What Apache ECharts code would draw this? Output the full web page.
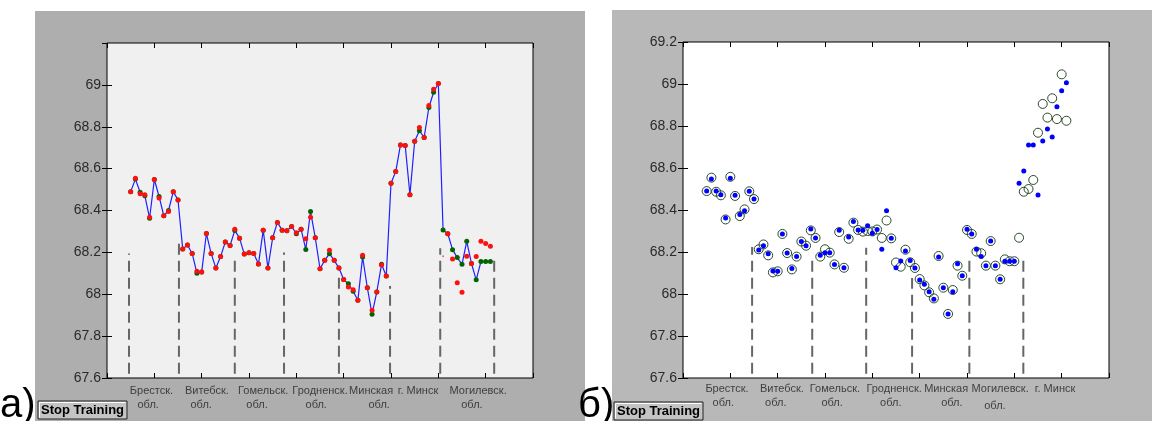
<!DOCTYPE html>
<html>
<head>
<meta charset="utf-8">
<script src="https://cdn.jsdelivr.net/npm/echarts@6/dist/echarts.min.js"></script>
<style>
html, body { margin: 0; padding: 0; background: #fff; }
#main { width: 1152px; height: 421px; }
</style>
</head>
<body>
<div id="main"></div>
<script>
var chart = echarts.init(document.getElementById('main'));

// region names under the axes
var regionsA = ['Брестск.', 'Витебск.', 'Гомельск.', 'Гродненск.', 'Минская', 'г. Минск', 'Могилевск.'];
var oblA = ['обл.', 'обл.', 'обл.', 'обл.', 'обл.', '', 'обл.'];
var regionsB = ['Брестск.', 'Витебск.', 'Гомельск.', 'Гродненск.', 'Минская', 'Могилевск.', 'г. Минск'];
var oblB = ['обл.', 'обл.', 'обл.', 'обл.', 'обл.', 'обл.', ''];

// а) actual values (blue line, green dots) and network output (red dots)
var actualA = [68.49, 68.55, 68.487, 68.47, 68.363, 68.548, 68.467, 68.375, 68.40, 68.49, 68.45,
  68.216, 68.235, 68.195, 68.10, 68.106, 68.29, 68.195, 68.125, 68.18, 68.25, 68.233,
  68.305, 68.268, 68.192, 68.198, 68.195, 68.144, 68.306, 68.125, 68.27, 68.343, 68.306,
  68.303, 68.324, 68.289, 68.311, 68.214, 68.395, 68.27, 68.122, 68.162, 68.194, 68.162,
  68.125, 68.07, 68.05, 68.014, 67.971, 68.178, 68.031, 67.905, 68.011, 68.143, 68.087,
  68.53, 68.586, 68.713, 68.71, 68.475, 68.731, 68.781, 68.749, 68.892, 68.965, 69.007,
  68.307, 68.289, 68.213, 68.175, 68.143, 68.253, 68.147, 68.069, 68.156, 68.156, 68.156];
var outputA = [68.49, 68.554, 68.48, 68.475, 68.368, 68.548, 68.46, 68.375, 68.395, 68.49, 68.45,
  68.216, 68.235, 68.195, 68.11, 68.106, 68.29, 68.195, 68.125, 68.18, 68.25, 68.233,
  68.31, 68.268, 68.192, 68.198, 68.195, 68.144, 68.306, 68.125, 68.27, 68.343, 68.306,
  68.303, 68.324, 68.294, 68.311, 68.265, 68.368, 68.27, 68.122, 68.162, 68.21, 68.162,
  68.125, 68.07, 68.035, 68.022, 67.971, 68.186, 68.031, 67.924, 68.011, 68.14, 68.087,
  68.53, 68.586, 68.713, 68.71, 68.475, 68.731, 68.797, 68.749, 68.901, 68.979, 69.007,
  null, 68.289, 68.168, 68.055, 68.009, 68.181, 68.147, 68.18, 68.253, 68.242, 68.229];
var strayA = { index: 66, value: 68.182 };

// б) actual values (blue dots) and model output (circles)
var actualB = [68.49, 68.548, 68.49, 68.473, 68.362, 68.551, 68.47, 68.379, 68.397, 68.489, 68.452,
  68.21, 68.23, 68.192, 68.11, 68.108, 68.286, 68.195, 68.122, 68.178, 68.25, 68.23,
  68.31, 68.267, 68.184, 68.197, 68.197, 68.141, 68.303, 68.125, 68.271, 68.345, 68.305,
  68.303, 68.325, 68.289, 68.307, 68.213, 68.397, 68.265, 68.125, 68.157, 68.205, 68.159,
  68.124, 68.067, 68.046, 68.011, 67.975, 68.176, 68.03, 67.905, 68.011, 68.144, 68.087,
  68.308, 68.286, 68.213, 68.178, 68.135, 68.252, 68.135, 68.07, 68.156, 68.156, 68.156,
  68.527, 68.586, 68.71, 68.71, 68.471, 68.729, 68.786, 68.748, 68.892, 68.968, 69.006];
var outputB = [68.49, 68.554, 68.487, 68.47, 68.355, 68.558, 68.467, 68.371, 68.403, 68.489, 68.452,
  68.213, 68.236, 68.184, 68.103, 68.108, 68.286, 68.195, 68.117, 68.178, 68.25, 68.23,
  68.303, 68.267, 68.178, 68.213, 68.197, 68.141, 68.295, 68.125, 68.263, 68.34, 68.305,
  68.297, 68.30, 68.298, 68.307, 68.267, 68.35, 68.265, 68.15, 68.13, 68.211, 68.151,
  68.124, 68.071, 68.041, 68.008, 67.979, 68.181, 68.03, 67.905, 68.019, 68.135, 68.087,
  68.305, 68.286, 68.202, 68.194, 68.135, 68.252, 68.135, 68.07, 68.165, 68.156, 68.156,
  68.268, 68.487, 68.50, 68.543, 68.768, 68.905, 68.84, 68.932, 68.833, 69.046, 68.825];

// dashed separators between regions
var sepXA = [0.465, 1.52, 2.70, 3.74, 4.90, 5.98, 7.04, 8.18];
var sepTopA = [68.195, 68.27, 68.18, 68.2, 68.08, 68.04, 68.22, 68.16];
var sepXB = [1.46, 2.73, 3.87, 4.84, 6.05, 7.19];
var sepTopB = [68.224, 68.18, 68.22, 68.076, 68.16, 68.18];

// label layout (axis units)
var nameXA = [0.94, 2.11, 3.30, 4.50, 5.58, 6.57, 7.84];
var oblXA = [0.87, 1.99, 3.17, 4.42, 5.75, 0, 7.71];
var nameXB = [0.93, 2.09, 3.21, 4.46, 5.56, 6.70, 7.86];
var oblXB = [0.85, 1.96, 3.15, 4.39, 5.68, 6.59, 0];

function xOf(i) { return (i + 5) / 10; }
function pts(vals) {
    var out = [];
    vals.forEach(function (v, i) { if (v !== null) out.push([xOf(i), v]); });
    return out;
}

var font = '"Liberation Sans", Arial, sans-serif';

function gridAxes(g, showMax) {
    var tick = { inside: true, length: 5, lineStyle: { color: '#000', width: 1 } };
    var xs = ['bottom', 'top'].map(function (p) {
        return { gridIndex: g, type: 'value', position: p, min: 0, max: 9, interval: 1,
            axisLine: { show: false }, axisTick: tick, axisLabel: { show: false }, splitLine: { show: false } };
    });
    var ys = ['left', 'right'].map(function (p) {
        return { gridIndex: g, type: 'value', position: p, min: 67.6, max: 69.2, interval: 0.2,
            axisLine: { show: false }, axisTick: tick, splitLine: { show: false },
            axisLabel: { show: p === 'left', showMaxLabel: showMax, margin: 6, color: '#2a2a2a',
                fontSize: 14, fontFamily: font,
                formatter: function (v) { return String(+v.toFixed(1)); } } };
    });
    return { x: xs, y: ys };
}

var axA = gridAxes(0, false), axB = gridAxes(1, true);

function sepSeries(xs, tops, xi, yi) {
    return xs.map(function (x, k) {
        return { type: 'line', xAxisIndex: xi, yAxisIndex: yi, symbol: 'none', silent: true, z: 1,
            data: [[x, 67.62], [x, tops[k]]],
            lineStyle: { color: '#666', width: 2, type: [11, 6] } };
    });
}

function labelSeries(names, xs, y, xi, yi) {
    var data = [];
    names.forEach(function (n, k) { if (n) data.push({ value: [xs[k], y], name: n }); });
    return { type: 'scatter', xAxisIndex: xi, yAxisIndex: yi, clip: false, silent: true, symbolSize: 0,
        data: data,
        label: { show: true, position: 'inside', formatter: '{b}', color: '#222', fontSize: 11, fontFamily: font } };
}

var series = [];
series = series.concat(sepSeries(sepXA, sepTopA, 0, 0), sepSeries(sepXB, sepTopB, 2, 2));
series.push(
    { type: 'line', xAxisIndex: 0, yAxisIndex: 0, data: pts(actualA), symbol: 'none', z: 2,
      lineStyle: { color: '#1f1fff', width: 1.2 } },
    { type: 'scatter', xAxisIndex: 0, yAxisIndex: 0, data: pts(actualA), symbolSize: 5, z: 3,
      itemStyle: { color: '#006400', opacity: 1 } },
    { type: 'scatter', xAxisIndex: 0, yAxisIndex: 0, data: pts(outputA), symbolSize: 5, z: 4,
      itemStyle: { color: '#ff1010', opacity: 1 } },
    { type: 'scatter', xAxisIndex: 0, yAxisIndex: 0, data: [[xOf(strayA.index), strayA.value]], symbolSize: 2, z: 4,
      itemStyle: { color: '#ff4040' } },
    { type: 'scatter', xAxisIndex: 2, yAxisIndex: 2, data: pts(outputB), symbolSize: 9, z: 3,
      itemStyle: { color: 'rgba(0,0,0,0)', borderColor: '#2a4a2a', borderWidth: 1, opacity: 1 } },
    { type: 'scatter', xAxisIndex: 2, yAxisIndex: 2, data: pts(actualB), symbolSize: 5, z: 4,
      itemStyle: { color: '#0000ff', opacity: 1 } },
    labelSeries(regionsA, nameXA, 67.538, 0, 0),
    labelSeries(oblA, oblXA, 67.471, 0, 0),
    labelSeries(regionsB, nameXB, 67.548, 2, 2),
    labelSeries(oblB.slice(0, 5).concat(['', '']), oblXB, 67.481, 2, 2),
    labelSeries(['', '', '', '', '', oblB[5], ''], oblXB, 67.467, 2, 2)
);

function button(x, y) {
    return [
        { type: 'rect', shape: { x: x, y: y, width: 89, height: 18 }, z: -5,
          style: { fill: '#c4c4c4', stroke: '#222', lineWidth: 1 } },
        { type: 'polyline', shape: { points: [[x + 1.5, y + 16.5], [x + 1.5, y + 1.5], [x + 87.5, y + 1.5]] }, z: -4,
          style: { stroke: '#fff', lineWidth: 1, fill: null } },
        { type: 'text', x: x + 44.5, y: y + 9.5, z: -3,
          style: { text: 'Stop Training', fontSize: 13, fontWeight: 'bold', fontFamily: font, fill: '#000',
                   align: 'center', verticalAlign: 'middle' } }
    ];
}

var graphics = [
    { type: 'rect', shape: { x: 35, y: 11, width: 550, height: 410 }, z: -10, style: { fill: '#aeaeae' } },
    { type: 'rect', shape: { x: 612, y: 10, width: 540, height: 411 }, z: -10, style: { fill: '#b8b8b8' } },
    { type: 'text', x: 0, y: 426, z: -3,
      style: { text: 'а)', fontSize: 40, fontFamily: font, fill: '#000', verticalAlign: 'bottom' } },
    { type: 'text', x: 578, y: 426, z: -3,
      style: { text: 'б)', fontSize: 40, fontFamily: font, fill: '#000', verticalAlign: 'bottom' } }
].concat(button(38, 401), button(614, 402));

var option = {
    animation: false,
    backgroundColor: '#fff',
    graphic: graphics,
    grid: [
        { left: 107, top: 43, width: 426, height: 335, show: true, backgroundColor: '#f0f0f0',
          borderColor: '#000', borderWidth: 1, outerBoundsMode: 'none' },
        { left: 683, top: 42, width: 426, height: 336, show: true, backgroundColor: '#fff',
          borderColor: '#000', borderWidth: 1, outerBoundsMode: 'none' }
    ],
    xAxis: axA.x.concat(axB.x),
    yAxis: axA.y.concat(axB.y),
    series: series
};
chart.setOption(option, true);
</script>
</body>
</html>
